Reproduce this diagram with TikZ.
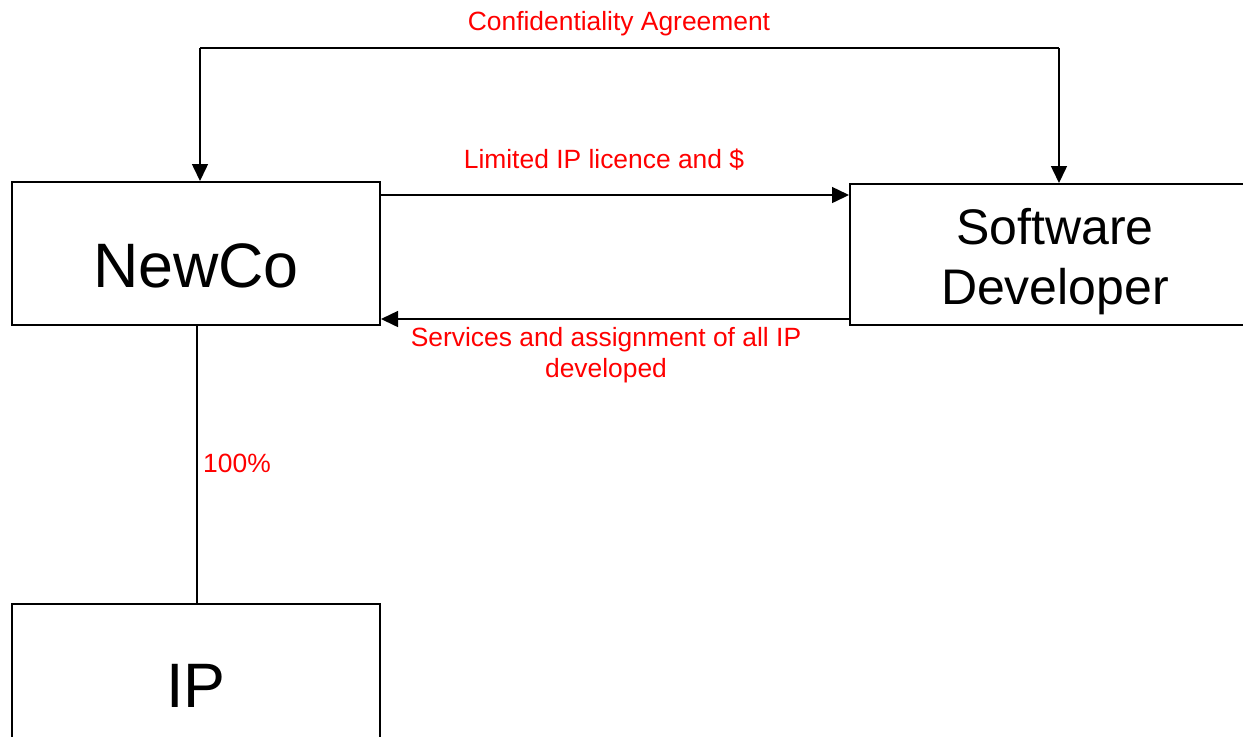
\documentclass[tikz,border=0pt]{standalone}
\usepackage{fontspec}
\setmainfont{Liberation Sans}
\usetikzlibrary{arrows.meta}
\begin{document}
\begin{tikzpicture}[x=0.5pt,y=-0.5pt,
  entity/.style={draw,line width=1pt,rectangle,inner sep=0pt},
  bigtext/.style={font=\fontsize{31.4}{37}\selectfont,inner sep=0pt},
  midtext/.style={font=\fontsize{25}{30}\selectfont,align=center,inner sep=0pt},
  note/.style={text=red,font=\fontsize{13.2}{15.8}\selectfont,align=center,inner sep=0pt},
  link/.style={line width=0.75pt},
  arr/.style={link,-{Triangle[length=8.5pt,width=8pt]}}]
\useasboundingbox (0,0) rectangle (1243,736);
\clip (0,0) rectangle (1243,736);
% the three parties
\node[entity,minimum width=184pt,minimum height=71.5pt] (newco) at (196,253.5) {};
\node[entity,minimum width=205pt,minimum height=70.5pt] (sd) at (1055,254.5) {};
\node[entity,minimum width=184pt,minimum height=83pt] (ip) at (196,687) {};
\node[bigtext] (newcotxt) at (196,266) {NewCo};
\node[midtext] (sdtxt) at (1055,262) {Software\\Developer};
\node[bigtext] (iptxt) at (196,686) {IP};
% confidentiality agreement bracket over both parties
\coordinate (cl) at (200,48);
\coordinate (cr) at (1059,48);
\draw[link] (cl) -- (cr);
\draw[arr] (cl) -- (newco.north -| cl);
\draw[arr] (cr) -- (sd.north -| cr);
% licence and services flows
\coordinate (ya) at (0,195);
\coordinate (yb) at (0,319);
\draw[arr] (newco.east |- ya) -- (sd.west |- ya);
\draw[arr] (sd.west |- yb) -- (newco.east |- yb);
% ownership
\draw[link] (newco.south -| 197,0) -- (ip.north -| 197,0);
% labels
\node[note] (lconf) at (619,24) {Confidentiality Agreement};
\node[note] (llic) at (604,160) {Limited IP licence and \$};
\node[note] (lserv) at (606,355) {Services and assignment of all IP\\developed};
\node[note] (lpct) at (237,463) {100\%};
\end{tikzpicture}
\end{document}
